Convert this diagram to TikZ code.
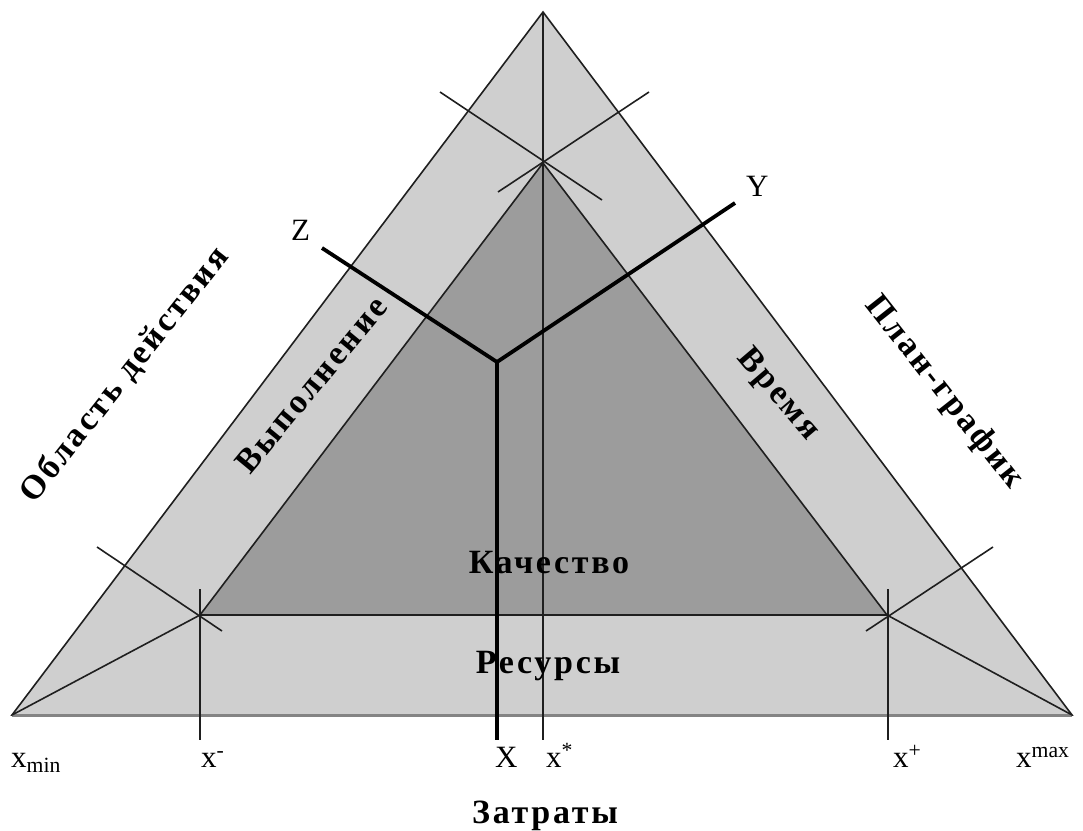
\documentclass[tikz,border=0pt]{standalone}
\usepackage{fontspec}
\setmainfont{Liberation Serif}
\newfontfamily\spb[LetterSpace=8]{Liberation Serif}
\definecolor{lightband}{gray}{0.81}
\definecolor{darktri}{gray}{0.61}
\definecolor{thinline}{gray}{0.12}
\begin{document}
\begin{tikzpicture}[x=1pt,y=-1pt,
  thin line/.style={draw=thinline,line width=1.6pt},
  axis line/.style={draw=black,line width=3.8pt},
  band label/.style={font=\spb\bfseries\fontsize{34}{36}\selectfont,inner sep=0pt},
  xlabel/.style={font=\fontsize{31}{33}\selectfont,inner sep=0pt,anchor=base west},
]
\useasboundingbox (0,0) rectangle (1083,830);
% vertices
\coordinate (A) at (12,715);
\coordinate (B) at (1072,715);
\coordinate (C) at (543,12);
\coordinate (a) at (200,615);
\coordinate (b) at (887,615);
\coordinate (c) at (543,163);
\coordinate (O) at (497,362);
\coordinate (Zend) at (322,248);
\coordinate (Yend) at (735,203);
\coordinate (Xend) at (497,740);
% star lines
\coordinate (c1) at (440,92);
\coordinate (c2) at (602,200);
\coordinate (c3) at (649,92);
\coordinate (c4) at (498,192);
\coordinate (a1) at (97,547);
\coordinate (a2) at (222,631);
\coordinate (aup) at (200,589);
\coordinate (adn) at (200,740);
\coordinate (b1) at (993,547);
\coordinate (b2) at (866,631);
\coordinate (bup) at (888,589);
\coordinate (bdn) at (888,740);
\coordinate (sdn) at (543,740);
% fills
\fill[lightband] (A) -- (B) -- (C) -- cycle;
\fill[darktri] (a) -- (b) -- (c) -- cycle;
% outlines
\draw[thin line] (A) -- (B) -- (C) -- cycle;
\draw[draw=thinline!55,line width=3pt] (A) -- (B);
\draw[thin line] (a) -- (b) -- (c) -- cycle;
% bisector lines
\draw[thin line] (A) -- (a);
\draw[thin line] (B) -- (b);
\draw[thin line] (C) -- (sdn);
\draw[thin line] (c1) -- (c2);
\draw[thin line] (c3) -- (c4);
\draw[thin line] (a1) -- (a2);
\draw[thin line] (aup) -- (adn);
\draw[thin line] (b1) -- (b2);
\draw[thin line] (bup) -- (bdn);
% bold axes
\draw[axis line,line cap=butt] (Zend) -- (O) -- (Yend);
\draw[axis line] (O) -- (Xend);
% band labels
\node[band label,anchor=base] (kach) at (549,573) {Качество};
\node[band label,anchor=base] (res) at (548,673) {Ресурсы};
\node[band label,anchor=base] (zatr) at (545,823) {Затраты};
\node[band label,rotate=50.4] (vyp) at (311,385) {Выполнение};
\node[band label,rotate=-49.5] (vrem) at (778,395) {Время};
\node[band label,rotate=51.6] (obl) at (125,375) {Область действия};
\node[band label,rotate=-51.7] (plan) at (944,393) {План-график};
% axis labels
\node[xlabel] (lz) at (291,240) {Z};
\node[xlabel] (ly) at (746,196) {Y};
\node[xlabel] (lx) at (495,767) {X};
\node[xlabel] (lxmin) at (11,767) {x\textsubscript{min}};
\node[xlabel] (lxm) at (201,767) {x\textsuperscript{-}};
\node[xlabel] (lxs) at (546,767) {x\textsuperscript{*}};
\node[xlabel] (lxp) at (893,767) {x\textsuperscript{+}};
\node[xlabel] (lxmax) at (1016,767) {x\textsuperscript{max}};
\end{tikzpicture}
\end{document}
